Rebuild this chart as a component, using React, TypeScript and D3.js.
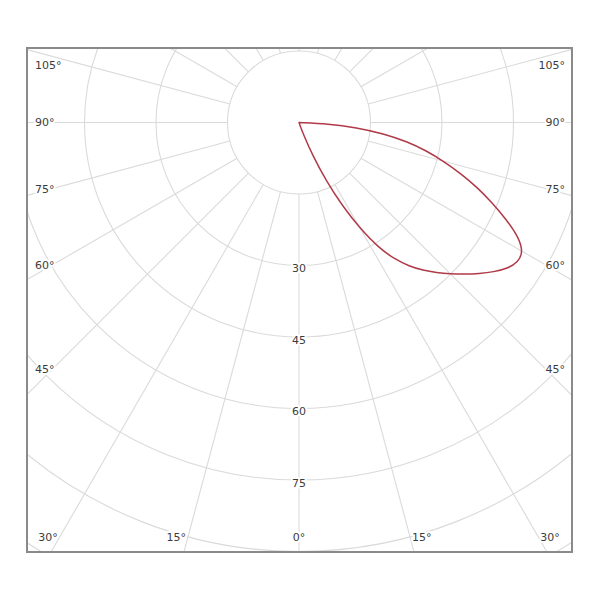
import React from "react";
import * as d3 from "d3";

// Ring values (intensity grid) and spoke angles
const ringValues = [15, 30, 45, 60, 75, 90, 105, 120];
const ringLabelValues = [30, 45, 60, 75];
const spokeAngles = d3.range(0, 360, 15);
const angleLabels = [0, 15, 30, 45, 60, 75, 90, 105];

// Light distribution curve (angle from nadir in degrees, intensity)
const curveAngles = [17.5, 20, 22.5, 25, 27.5, 30, 32.5, 35, 37.5, 40, 42.5, 45, 47.5, 50, 52.5, 55, 57.5, 60, 62.5, 65, 67.5, 70, 72.5, 75, 77.5, 80, 82.5, 85, 87.5, 90];
const curveValues = [0, 2.5, 7.5, 13.5, 19.8, 25.8, 31.2, 35, 38, 40.5, 42.7, 44.9, 47.1, 49.3, 51.5, 53.4, 54.5, 54.3, 51.9, 47.9, 43.8, 39.8, 35.6, 31.4, 27.4, 23.0, 17.9, 12.1, 6.1, 0];

const W = 600;
const H = 600;
const frame = { x0: 27, y0: 48, x1: 572, y1: 552 };
const cx = 299;
const cy = 122.5;

export default function App() {
  const r = d3.scaleLinear().domain([0, 15]).range([0, 71.5]);
  const rad = (deg: number) => (deg * Math.PI) / 180;
  const dir = (deg: number) => [Math.sin(rad(deg)), Math.cos(rad(deg))];

  const pts = curveAngles.map((a, i) => ({ a, v: curveValues[i] }));
  const line = d3
    .lineRadial<{ a: number; v: number }>()
    .angle((d) => Math.PI - rad(d.a))
    .radius((d) => r(d.v))
    .curve(d3.curveBasis);
  const curvePath = (line(pts) || "") + "Z";

  const innerR = r(15);
  const outerR = 900;

  const textStyle: React.CSSProperties = {
    fontFamily: "'DejaVu Sans', Verdana, sans-serif",
    fontSize: 11,
    fill: "#3c3c3c",
  };
  const halo = { stroke: "#fff", strokeWidth: 4, paintOrder: "stroke" as const, strokeLinejoin: "round" as const };

  const labels: { key: string; x: number; y: number; anchor: string; text: string }[] = [];
  angleLabels.forEach((deg) => {
    const sides = deg === 0 ? [1] : [-1, 1];
    sides.forEach((s) => {
      const [sx, sy] = dir(deg);
      const tBottom = sy > 1e-6 ? (frame.y1 - cy) / sy : Infinity;
      const xBottom = cx + s * sx * tBottom;
      if (tBottom !== Infinity && xBottom > frame.x0 + 10 && xBottom < frame.x1 - 10) {
        const yl = 537;
        const xl = cx + s * sx * ((yl - cy) / sy);
        labels.push({
          key: `b${deg}_${s}`,
          x: deg === 0 ? xl : xl + s * 2,
          y: yl,
          anchor: deg === 0 ? "middle" : s < 0 ? "end" : "start",
          text: `${deg}°`,
        });
      } else {
        const dx = cx - 52;
        let yl = cy + (dx * sy) / sx;
        yl = Math.max(yl, frame.y0 + 17);
        labels.push({
          key: `s${deg}_${s}`,
          x: s < 0 ? 35 : 565,
          y: yl,
          anchor: s < 0 ? "start" : "end",
          text: `${deg}°`,
        });
      }
    });
  });

  return (
    <svg width={W} height={H} style={{ position: "absolute", left: 0, top: 0, background: "#fff" }}>
      <defs>
        <clipPath id="frameClip">
          <rect x={frame.x0} y={frame.y0} width={frame.x1 - frame.x0} height={frame.y1 - frame.y0} />
        </clipPath>
      </defs>
      <rect x={0} y={0} width={W} height={H} fill="#fff" />
      <g clipPath="url(#frameClip)">
        {ringValues.map((v) => (
          <circle key={v} cx={cx} cy={cy} r={r(v)} fill="none" stroke="#dadada" strokeWidth={1.1} />
        ))}
        {spokeAngles.map((a) => {
          const [sx, sy] = dir(a);
          return (
            <line
              key={a}
              x1={cx + sx * innerR}
              y1={cy + sy * innerR}
              x2={cx + sx * outerR}
              y2={cy + sy * outerR}
              stroke="#dadada"
              strokeWidth={1.1}
            />
          );
        })}
        {ringLabelValues.map((v) => (
          <text
            key={v}
            x={cx}
            y={cy + r(v) + 3}
            textAnchor="middle"
            dy="0.35em"
            style={{ ...textStyle, ...halo }}
          >
            {v}
          </text>
        ))}
        {labels.map((l) => (
          <text key={l.key} x={l.x} y={l.y} dy="0.35em" textAnchor={l.anchor as any} style={{ ...textStyle, ...halo }}>
            {l.text}
          </text>
        ))}
        <path d={curvePath} transform={`translate(${cx},${cy})`} fill="none" stroke="#b03a48" strokeWidth={1.5} strokeLinejoin="round" />
      </g>
      <rect
        x={frame.x0}
        y={frame.y0}
        width={frame.x1 - frame.x0}
        height={frame.y1 - frame.y0}
        fill="none"
        stroke="#8a8a8a"
        strokeWidth={2}
      />
    </svg>
  );
}
